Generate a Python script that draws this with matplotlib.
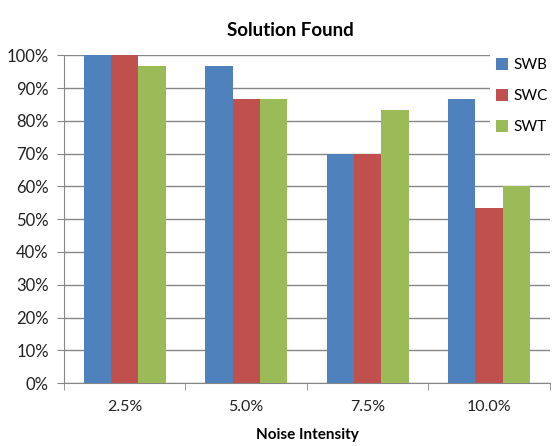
import numpy as np
import matplotlib.pyplot as plt
from matplotlib.ticker import PercentFormatter

# Fraction of runs where a solution was found, per noise level
noise_levels = ["2.5%", "5.0%", "7.5%", "10.0%"]
swb = [100.0, 96.7, 70.0, 86.7]
swc = [100.0, 86.7, 70.0, 53.3]
swt = [96.7, 86.7, 83.3, 60.0]

series = [("SWB", swb, "#4F81BD"), ("SWC", swc, "#C0504D"), ("SWT", swt, "#9BBB59")]

plt.rcParams["font.family"] = ["Lato", "DejaVu Sans"]

fig = plt.figure(figsize=(5.52, 4.46), dpi=100)
ax = fig.add_axes([0.116, 0.141, 0.880, 0.735])

x = np.arange(len(noise_levels))
w = 0.225
for i, (name, vals, col) in enumerate(series):
    ax.bar(x + (i - 1) * w, vals, w, color=col, label=name, zorder=3)

ax.set_xlim(-0.5, len(noise_levels) - 0.5)
ax.set_ylim(0, 100)
ax.set_yticks(np.arange(0, 101, 10))
ax.yaxis.set_major_formatter(PercentFormatter(decimals=0))
ax.yaxis.grid(True, color="#868686", linewidth=1, zorder=0)

ax.set_xticks(x)
ax.set_xticklabels(noise_levels)
ax.set_xticks(np.arange(-0.5, len(noise_levels)), minor=True)
ax.tick_params(axis="x", which="major", length=0, pad=12, labelsize=11.5, labelcolor="#222222")
ax.tick_params(axis="x", which="minor", length=5, color="#868686")
ax.tick_params(axis="y", length=5, color="#868686", labelsize=12, labelcolor="#222222", pad=6)

for s in ["top", "right"]:
    ax.spines[s].set_visible(False)
for s in ["left", "bottom"]:
    ax.spines[s].set_color("#868686")

ax.set_title("Solution Found", fontsize=13.5, fontweight="bold", pad=14, x=0.465)
ax.set_xlabel("Noise Intensity", fontsize=11, fontweight="bold", labelpad=10)

leg = ax.legend(loc="upper left", bbox_to_anchor=(0.877, 1.01), frameon=True,
                fontsize=11, handlelength=0.8, handleheight=0.8, handletextpad=0.35,
                labelspacing=1.1, borderpad=0.4, borderaxespad=0)
leg.get_frame().set_facecolor("white")
leg.get_frame().set_edgecolor("none")
leg.get_frame().set_alpha(1)
leg.set_zorder(5)

fig.savefig("out.png", dpi=100)
